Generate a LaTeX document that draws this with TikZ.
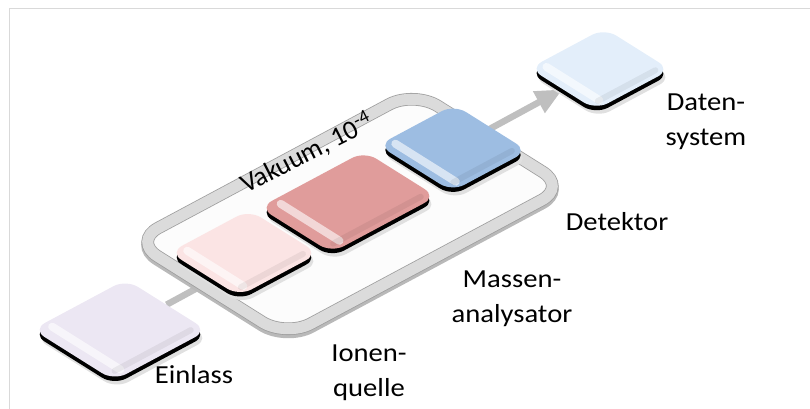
\documentclass[tikz,border=0pt]{standalone}
\usepackage{fontspec}
\setmainfont{Carlito}
\usetikzlibrary{calc,arrows.meta}
\pgfdeclarelayer{back}
\pgfsetlayers{back,main}
\definecolor{einlassc}{HTML}{ECE7F3}
\definecolor{ionenc}{HTML}{FBE4E4}
\definecolor{massc}{HTML}{E09C9B}
\definecolor{detc}{HTML}{9DBDE2}
\definecolor{datenc}{HTML}{E3EEFA}
\definecolor{framec}{HTML}{D9D9D9}
\tikzset{
  plane/.style={cm={0.882,0.472,-0.847,0.532,(0,0)},transform shape},
  box/.style={plane,rounded corners=14pt,inner sep=0pt,fill=#1,
    preaction={fill=black!12,transform canvas={xshift=2pt,yshift=-8pt}},
    preaction={fill=black,transform canvas={yshift=-4.5pt}}},
  shine/.style={draw=white,line width=8pt,opacity=.6,line cap=round,
    shorten <=8pt,shorten >=8pt},
  dim/.style={draw=black,line width=6pt,opacity=.06,line cap=round,
    shorten <=10pt,shorten >=10pt},
  vessel/.style={plane,rounded corners=28pt,inner sep=0pt,fill=white!98!gray,
    draw=gray!75,line width=.8pt,double=gray!28,double distance=11pt,
    preaction={draw=gray!55,line width=13pt,transform canvas={yshift=-3pt}}},
  flow/.style={draw=gray!50,line width=6.5pt,-{Triangle[length=27pt,width=23pt]}},
  lbl/.style={font=\fontsize{26}{35}\selectfont,align=center,anchor=base,
    inner sep=0pt,xscale=1.1,transform shape}
}
\begin{document}
\begin{tikzpicture}[x=1pt,y=-1pt]
\useasboundingbox (0,0) rectangle (810,408);
\draw[framec,line width=1.5pt] (820,8.5) -- (9.5,8.5) -- (9.5,420);

% vacuum chamber
\node[vessel,minimum width=318pt,minimum height=180pt] (vac) at (350,214) {};
\node[font=\fontsize{27}{30}\selectfont,rotate=27,transform shape,
  anchor=base west,inner sep=0pt] (vaclbl) at (246,194) {Vakuum, 10\textsuperscript{-4}};

% units
\node[box=einlassc,minimum width=106pt,minimum height=96pt] (einlass) at (120,330) {};
\node[box=ionenc,minimum width=90pt,minimum height=82pt] (ionen) at (244,253) {};
\node[box=massc,minimum width=119pt,minimum height=85pt] (mass) at (348,202) {};
\node[box=detc,minimum width=86pt,minimum height=87pt] (det) at (453,148) {};
\node[box=datenc,minimum width=85pt,minimum height=78pt] (daten) at (600,69) {};

\foreach \n in {einlass,ionen,mass,det,daten}{
  \draw[shine] ($(\n.south west)!.14!(\n.south east)$) -- ($(\n.north west)!.14!(\n.north east)$);
  \draw[dim] ($(\n.south west)!.1!(\n.north west)$) -- ($(\n.south east)!.1!(\n.north east)$);
}

\node[lbl] (einlasslbl) at (194,383) {Einlass};
\node[lbl] (ionenlbl) at (369,396) {Ionen-\\quelle};
\node[lbl] (masslbl) at (512,322) {Massen-\\analysator};
\node[lbl] (detlbl) at (617,230) {Detektor};
\node[lbl] (datenlbl) at (706,145) {Daten-\\system};

\begin{pgfonlayer}{back}
\draw[flow] (einlass) -- (daten);
\end{pgfonlayer}
\end{tikzpicture}
\end{document}
